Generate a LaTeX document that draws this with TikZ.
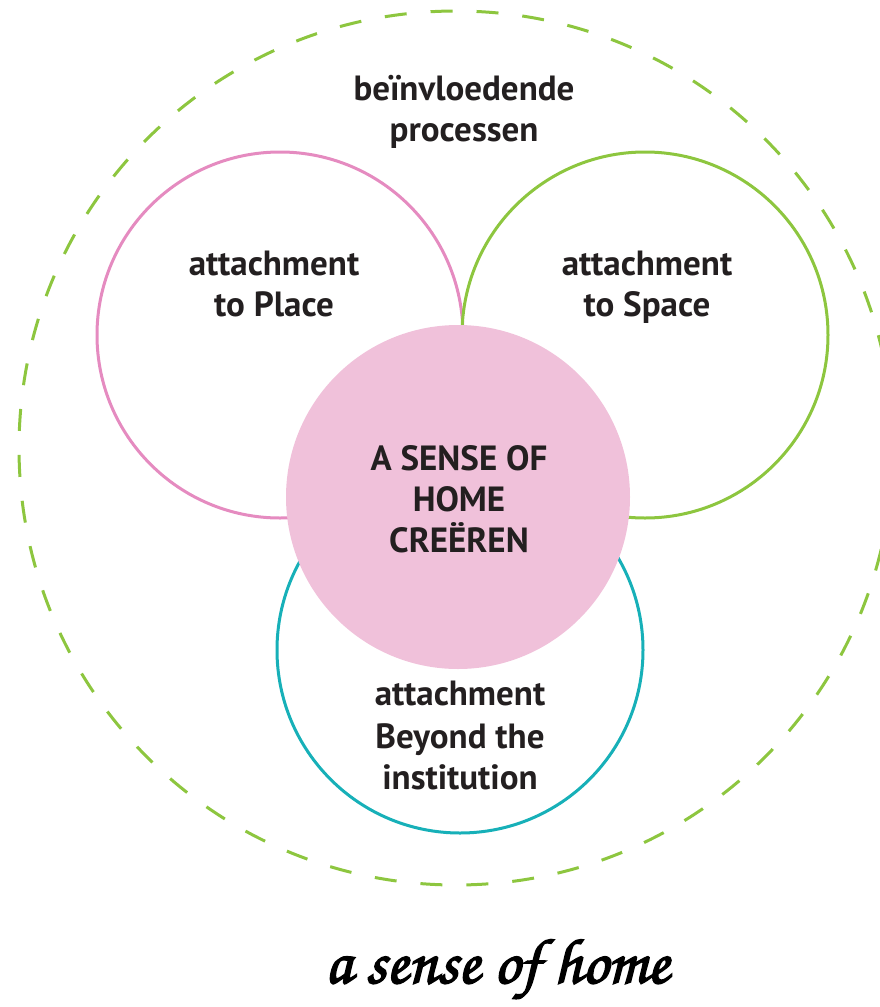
\documentclass[tikz,border=0pt]{standalone}
\usepackage{fontspec}
\setmainfont{PT Sans}
\definecolor{pinkline}{HTML}{E58BC0}
\definecolor{pinkfill}{HTML}{F0C1DA}
\definecolor{greenline}{HTML}{8DC63F}
\definecolor{tealline}{HTML}{17B0B8}
\definecolor{txt}{HTML}{231F20}
\tikzset{
  ring/.style={circle, inner sep=0pt, minimum size=366pt, line width=3pt},
  lbl/.style={anchor=base, inner sep=0pt, text=txt, font=\bfseries\fontsize{35}{35}\selectfont},
  core/.style={anchor=base, inner sep=0pt, text=txt, font=\bfseries\fontsize{35}{35}\selectfont},
}
\begin{document}
\begin{tikzpicture}[x=1pt,y=-1pt]
\useasboundingbox (0,0) rectangle (880,1007);
\node[circle, inner sep=0pt, minimum size=874pt, draw=greenline, line width=3pt, dash pattern=on 22pt off 24pt] (outer) at (456,448) {};
\node[ring, draw=pinkline] (place) at (280,335) {};
\node[ring, draw=greenline] (space) at (645,335) {};
\node[ring, draw=tealline] (beyond) at (460,650) {};
\node[circle, inner sep=0pt, minimum size=344pt, fill=pinkfill] (home) at (458,497) {};
\node[lbl] (o1) at (464,100) {beïnvloedende};
\node[lbl] (o2) at (464,141) {processen};
\node[lbl] (p1) at (274,275) {attachment};
\node[lbl] (p2) at (274,316) {to Place};
\node[lbl] (s1) at (647,275) {attachment};
\node[lbl] (s2) at (647,316) {to Space};
\node[lbl] (b1) at (460,705) {attachment};
\node[lbl] (b2) at (460,748) {Beyond the};
\node[lbl] (b3) at (460,789) {institution};
\node[core] (h1) at (459,470) {A SENSE OF};
\node[core] (h2) at (459,511) {HOME};
\node[core] (h3) at (459,552) {CREËREN};
\node[anchor=base, inner sep=0pt, font=\fontencoding{T1}\fontfamily{pzc}\fontseries{mb}\fontshape{it}\fontsize{64}{64}\selectfont] (tag) at (497,983) {\special{pdf:literal direct 2 Tr 1.6 w}a sense of home\special{pdf:literal direct 0 Tr 1 w}};
\end{tikzpicture}
\end{document}
